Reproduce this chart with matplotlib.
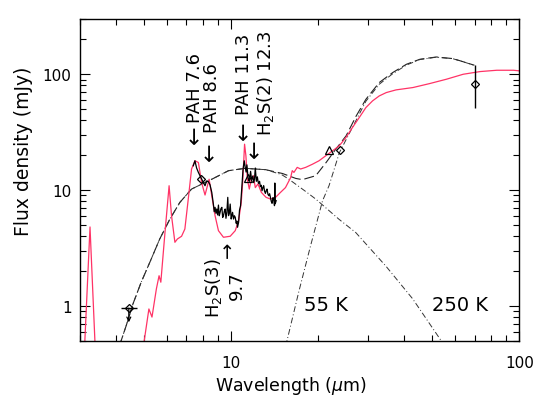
import matplotlib
matplotlib.use("Agg")
import matplotlib.pyplot as plt
from matplotlib.ticker import FixedLocator, FixedFormatter, LogLocator, NullFormatter

# ---------------- data ----------------
# model spectrum (red)
model_wl = [3.08, 3.25, 3.42, 4.0, 4.93, 5.20, 5.33, 5.52, 5.64, 5.72, 5.90, 6.11, 6.23,
            6.40, 6.53, 6.75, 6.93, 7.12, 7.31, 7.51, 7.72, 7.92, 8.14, 8.41, 8.59, 8.82,
            9.06, 9.43, 9.95, 10.36, 10.64, 10.87, 11.01, 11.16, 11.28, 11.41, 11.59, 11.78,
            11.97, 12.16, 12.42, 12.76, 13.25, 13.72, 14.29, 14.87, 15.47, 16.12, 16.33,
            16.55, 16.99, 17.46, 18.18, 19.17, 20.22, 21.35, 22.51, 23.76, 25.06, 26.43,
            27.9, 29.4, 31.0, 32.7, 34.6, 37.4, 42.8, 48.9, 55.9, 63.9, 73.1, 83.6, 95.5, 100.0]
model_flux = [0.25, 4.8, 0.25, 0.12, 0.38, 0.94, 0.80, 1.40, 1.82, 1.60, 4.04, 10.9, 6.0,
              3.54, 3.78, 3.99, 4.61, 8.36, 15.2, 17.9, 17.3, 11.6, 9.06, 12.4, 8.93, 6.0,
              4.46, 3.91, 3.99, 4.46, 5.43, 7.83, 12.4, 24.9, 19.8, 12.4, 10.2, 12.4,
              13.3, 10.5, 11.3, 9.55, 8.65, 8.36, 8.65, 9.55, 10.5, 12.8, 14.7,
              14.2, 15.7, 15.2, 15.7, 16.7, 17.9, 19.8, 21.8, 24.1, 28.4, 34.8,
              42.4, 51.6, 58.9, 65.0, 69.5, 73.3, 76.8, 83.1, 90.6, 100.0, 105.5, 108.3, 108.3, 107.0]

# IRS spectrum (black)
irs_wl = [7.41, 7.51, 7.61, 7.72, 7.82, 7.93, 8.03, 8.14, 8.25, 8.36,
          8.47, 8.59, 8.70, 8.76, 8.82, 8.88, 8.94, 9.00, 9.06, 9.12, 9.18, 9.24, 9.31, 9.37,
          9.43, 9.50, 9.56, 9.62, 9.69, 9.76, 9.82, 9.88, 9.95, 10.03, 10.08, 10.14, 10.22,
          10.29, 10.36, 10.44, 10.50, 10.55, 10.64, 10.72, 10.81, 10.93, 11.02, 11.13,
          11.22, 11.30, 11.37, 11.47, 11.53, 11.59, 11.71, 11.78, 11.84, 11.92, 12.00, 12.08,
          12.16, 12.26, 12.36, 12.43, 12.49, 12.58, 12.66, 12.75, 12.83, 12.92, 13.00, 13.09,
          13.18, 13.27, 13.35, 13.45, 13.54, 13.63, 13.72, 13.81, 13.90, 14.00, 14.09,
          14.17, 14.21, 14.25, 14.36]
irs_flux = [16.2, 17.9, 15.5, 14.2, 13.3, 12.4, 11.6, 10.9, 12.0, 11.8,
            11.1, 9.55, 7.57, 6.5, 7.09, 6.3, 6.86, 6.1, 7.42, 6.0, 6.42, 6.9, 7.09, 5.8,
            6.01, 6.6, 6.86, 5.7, 6.42, 8.65, 6.01, 6.3, 7.57, 5.62, 6.0, 6.42, 5.62,
            6.0, 5.81, 5.16, 5.4, 4.77, 5.26, 6.72, 7.33, 10.9, 14.9, 17.9,
            15.7, 14.3, 16.5, 13.0, 12.2, 11.9, 14.5, 12.8, 12.4, 13.2, 11.6, 12.4,
            15.5, 11.9, 13.0, 11.8, 11.4, 11.9, 10.7, 11.0, 9.87, 10.5, 10.9, 9.8,
            9.36, 9.9, 10.2, 9.2, 8.94, 9.3, 8.65, 8.0, 7.68, 8.6, 8.37,
            7.33, 11.5, 7.6, 8.1]

# sum of the two blackbodies (long dashes)
total_wl = [4.12, 4.34, 4.58, 4.89, 5.24, 5.67, 6.15, 6.66, 7.31, 8.59, 9.82, 11.2, 13.2,
            15.1, 16.8, 17.7, 19.7, 21.4, 23.1, 25.1, 27.2, 29.4, 32.7, 36.4, 40.6,
            45.2, 51.6, 59.0, 69.9]
total_flux = [0.46, 0.676, 1.04, 1.60, 2.38, 3.78, 5.62, 7.83, 10.2, 12.4, 14.7, 15.4, 15.0,
              13.9, 12.6, 12.3, 13.3, 17.3, 22.5, 29.4, 43.6, 60.8, 84.8, 103.4, 121.9,
              134.7, 141.0, 136.5, 119.6]

# 250 K blackbody (dash-dot)
bb250_wl = [4.12, 4.34, 4.58, 4.89, 5.24, 5.67, 6.15, 6.66, 7.31, 8.59, 9.82, 11.2, 13.2,
            15.0, 15.9, 18.2, 19.7, 23.7, 27.1, 34.5, 42.7, 53.6, 56.0]
bb250_flux = [0.46, 0.676, 1.04, 1.60, 2.38, 3.78, 5.62, 7.83, 10.2, 12.4, 14.7, 15.4, 15.0,
              13.6, 12.4, 9.7, 8.36, 5.6, 4.3, 2.2, 1.15, 0.50, 0.42]

# 55 K blackbody (dash-dot)
bb55_wl = [15.5, 17.2, 18.9, 20.8, 21.9, 23.8, 27.2, 29.4, 32.7, 36.4, 40.6, 45.2, 51.6, 59.0, 69.9]
bb55_flux = [0.45, 1.32, 3.3, 8.09, 10.9, 21.1, 40.1, 58.5, 82.0, 101.0, 120.0, 134.0, 140.5, 136.0, 119.6]

# photometry
diam_wl = [7.88, 23.9, 70.2]
diam_flux = [12.4, 22.1, 83.1]
diam_err_lo = [0.0, 0.0, 32.0]
diam_err_hi = [0.0, 0.0, 37.0]
tri_wl = [11.47, 21.9]
tri_flux = [12.8, 22.1]
ulim_wl = [4.43]
ulim_flux = [0.955]
ulim_wl_err_lo = [0.28]
ulim_wl_err_hi = [0.31]
ulim_arrow_end = [0.72]

# ---------------- figure ----------------
plt.rcParams['font.family'] = ['DejaVu Sans']
plt.rcParams['mathtext.fontset'] = 'dejavusans'

fig = plt.figure(figsize=(5.35, 4.02), dpi=100)
ax = fig.add_axes([0.1495, 0.15, 0.8211, 0.8002])
ax.set_xscale('log')
ax.set_yscale('log')
ax.set_xlim(3, 100)
ax.set_ylim(0.5, 300)

red = '#ff3366'
ax.plot(total_wl, total_flux, color='#222222', lw=0.8, dashes=(9, 3.5))
ax.plot(bb250_wl, bb250_flux, color='#333333', lw=0.7, dashes=(6, 2.5, 1, 2.5))
ax.plot(bb55_wl, bb55_flux, color='#333333', lw=0.7, dashes=(6, 2.5, 1, 2.5))
ax.plot(model_wl, model_flux, color=red, lw=0.9)
ax.plot(irs_wl, irs_flux, color='black', lw=0.9)

ax.errorbar(diam_wl, diam_flux, yerr=[diam_err_lo, diam_err_hi], fmt='D', ms=4.2,
            mfc='none', mec='black', mew=0.9, ecolor='black', elinewidth=1.0, capsize=0)
ax.plot(tri_wl, tri_flux, '^', ms=6, mfc='none', mec='black', mew=0.9)
ax.errorbar(ulim_wl, ulim_flux, xerr=[ulim_wl_err_lo, ulim_wl_err_hi], fmt='D', ms=4.2,
            mfc='none', mec='black', mew=0.9, ecolor='black', elinewidth=1.0, capsize=0)
ax.annotate('', xy=(ulim_wl[0], ulim_arrow_end[0]), xytext=(ulim_wl[0], ulim_flux[0]),
            arrowprops=dict(arrowstyle='->', color='black', lw=0.9, shrinkA=0, shrinkB=0,
                            mutation_scale=7))

# axes, ticks
ax.xaxis.set_major_locator(FixedLocator([10, 100]))
ax.xaxis.set_major_formatter(FixedFormatter(['10', '100']))
ax.xaxis.set_minor_locator(LogLocator(base=10, subs=range(2, 10)))
ax.xaxis.set_minor_formatter(NullFormatter())
ax.yaxis.set_major_locator(FixedLocator([1, 10, 100]))
ax.yaxis.set_major_formatter(FixedFormatter(['1', '10', '100']))
ax.yaxis.set_minor_locator(LogLocator(base=10, subs=range(2, 10)))
ax.yaxis.set_minor_formatter(NullFormatter())
ax.tick_params(which='both', direction='in', top=True, right=True, width=0.8, labelsize=11)
ax.tick_params(which='major', length=7.2)
ax.tick_params(which='minor', length=4.3)
ax.tick_params(axis='x', which='major', pad=10)
ax.tick_params(axis='y', which='major', pad=6)
for sp in ax.spines.values():
    sp.set_linewidth(1.0)

ax.set_xlabel('Wavelength ($\\mu$m)', fontsize=12.5)
ax.xaxis.set_label_coords(0.480, -0.105)
ax.set_ylabel('Flux density (mJy)', fontsize=13.5)
ax.yaxis.set_label_coords(-0.106, 0.591)

# annotations
kw = dict(rotation=90, ha='center', va='center', fontsize=13)
akw = dict(rotation=90, ha='center', va='center', fontsize=16)
ax.text(7.50, 30.9, '\u2190', **akw)
ax.text(7.50, 78.0, 'PAH 7.6', **kw)
ax.text(8.49, 21.8, '\u2190', **akw)
ax.text(8.58, 64.0, 'PAH 8.6', **kw)
ax.text(11.10, 33.5, '\u2190', **akw)
ax.text(11.10, 101.6, 'PAH 11.3', **kw)
ax.text(12.15, 23.3, '\u2190', **akw)
ax.text(13.2, 86.1, 'H$_2$S(2) 12.3', **kw)
ax.text(8.70, 1.44, 'H$_2$S(3)', **kw)
ax.text(9.75, 3.12, '\u2192', rotation=90, ha='center', va='center', fontsize=14)
ax.text(10.50, 1.51, '9.7', **kw)
ax.text(21.35, 1.02, '55 K', ha='center', va='center', fontsize=14)
ax.text(62.5, 1.02, '250 K', ha='center', va='center', fontsize=14)

fig.savefig('out.png', dpi=100)
